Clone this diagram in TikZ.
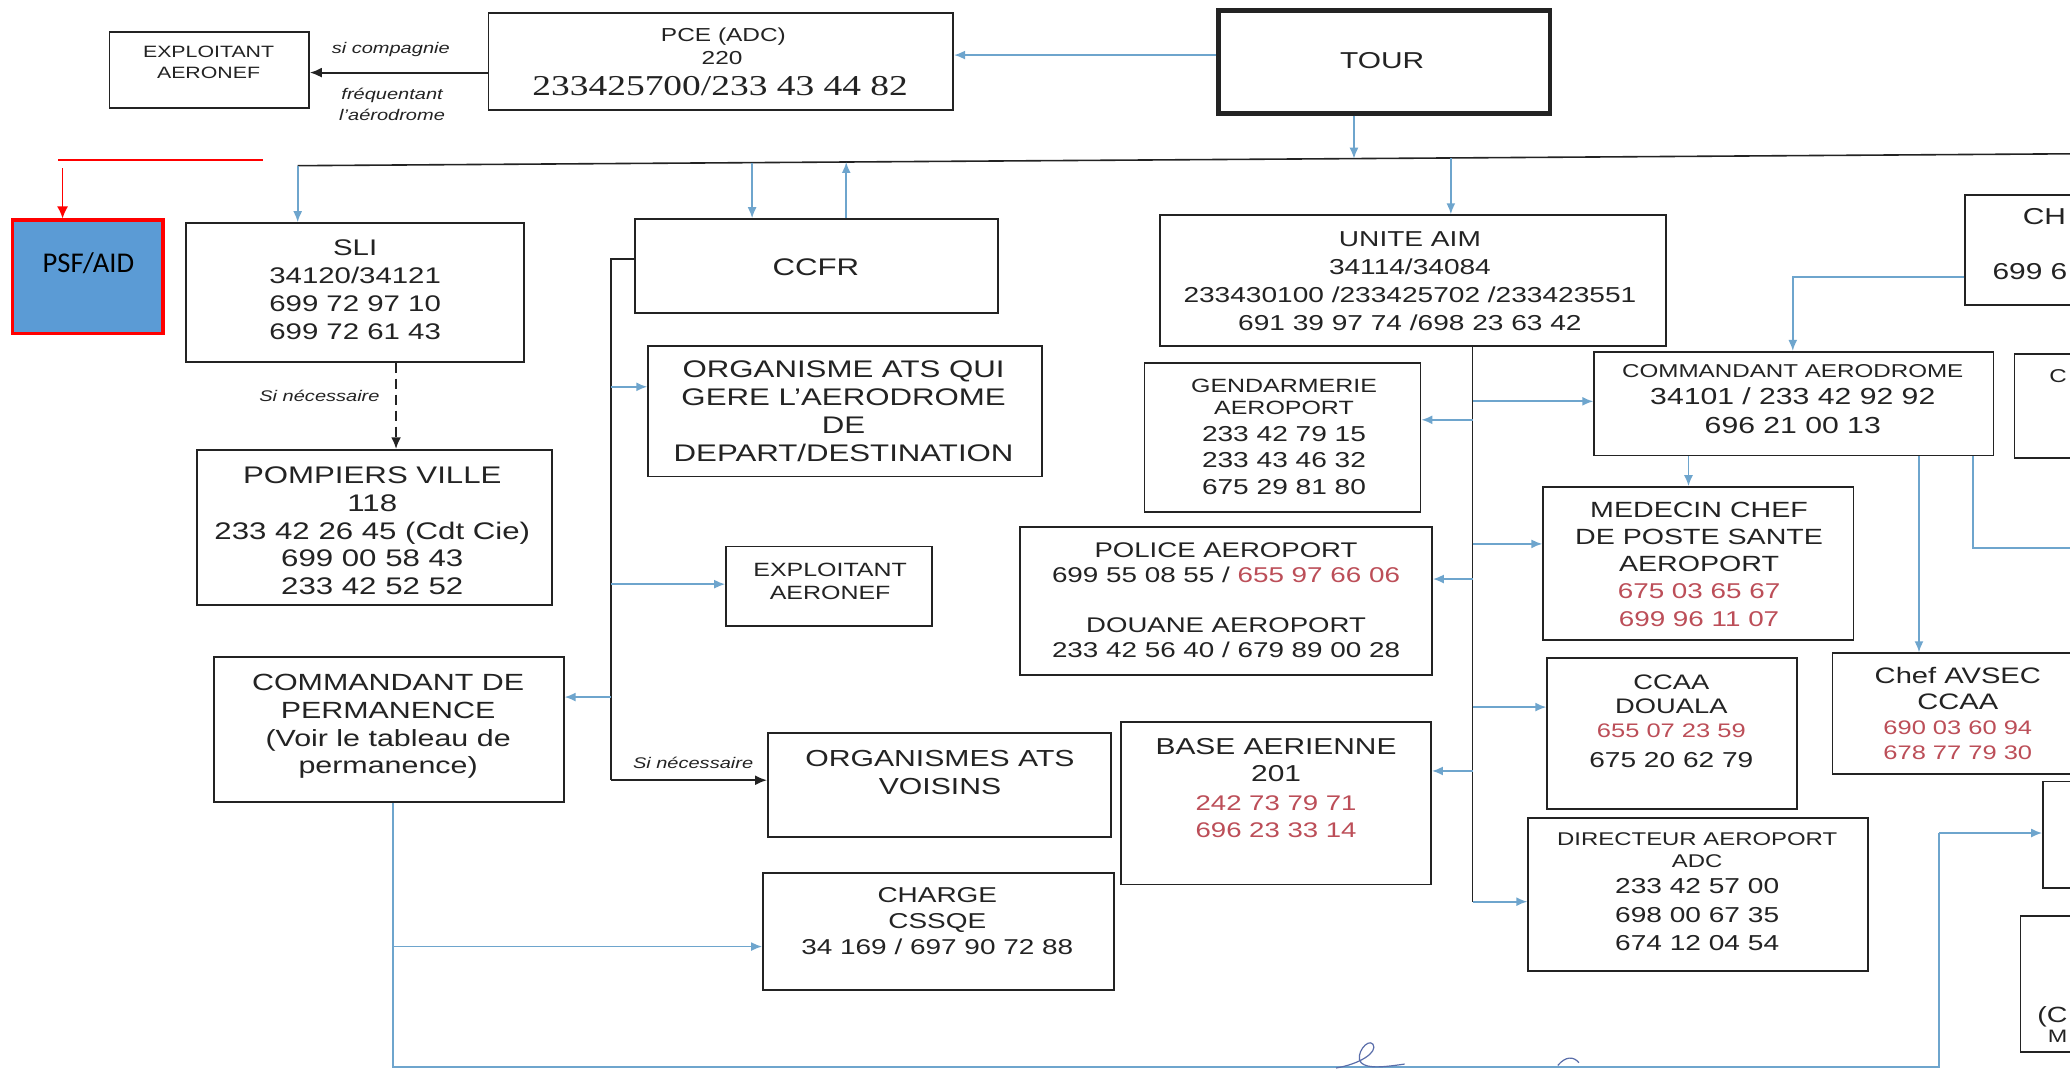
\documentclass[tikz,border=0pt]{standalone}
\usepackage{fontspec}
\setmainfont{Liberation Sans}[FakeStretch=1.3]
\newfontfamily\pcserif{Liberation Serif}[FakeStretch=1.3]
\newfontfamily\psffont{Carlito}
\usetikzlibrary{arrows.meta,fit}
\definecolor{ink}{RGB}{35,35,35}
\definecolor{lineblue}{RGB}{110,165,205}
\definecolor{rednum}{RGB}{188,78,88}
\definecolor{psfblue}{RGB}{91,155,213}
\definecolor{sig}{RGB}{90,110,170}
\begin{document}
\begin{tikzpicture}[x=0.6601pt,y=-0.6601pt,
  box/.style={draw=ink,line width=0.9pt,inner sep=0pt},
  txt/.style={inner sep=0pt,text depth=0pt,align=center,text=ink},
  fs/.style 2 args={font=\fontsize{#1}{#2}\selectfont},
  lab/.style={txt,font=\fontsize{7.7}{9}\selectfont\itshape},
  barrow/.style={draw=lineblue,line width=0.9pt,-{Latex[length=5.5pt,width=4.5pt]}},
  bline/.style={draw=lineblue,line width=0.9pt},
  karrow/.style={draw=ink,line width=1pt,-{Latex[length=6pt,width=5pt]}},
  kline/.style={draw=ink,line width=0.8pt}]
\useasboundingbox (0,0) rectangle (1568,810);
\clip (0,0) rectangle (1568,810);
\fill[white] (0,0) rectangle (1568,810);

% ---------- boxes ----------
\node[box,fit={(83,24.5) (234,82)}] (ex1) {};
\node[box,fit={(370,9.6) (722,83.5)}] (pce) {};
\node[box,line width=2.2pt,fit={(923,8) (1174,86)}] (tour) {};
\node[draw=red,line width=1.6pt,fill=psfblue,inner sep=0pt,fit={(9.5,166.7) (123.4,252.5)}] (psf) {};
\node[box,fit={(141,169) (397,274)}] (sli) {};
\node[box,fit={(149,341) (418,458)}] (pomp) {};
\node[box,fit={(162,497.6) (427,607.5)}] (cdp) {};
\node[box,fit={(481,166) (756,237)}] (ccfr) {};
\node[box,fit={(491,262) (789,361)}] (org) {};
\node[box,fit={(550,414) (706,474)}] (expl2) {};
\node[box,fit={(581.7,555) (841.6,634)}] (vois) {};
\node[box,fit={(578,661) (844,750)}] (charge) {};
\node[box,fit={(878.6,163) (1262,262)}] (aim) {};
\node[box,fit={(867,275) (1076,388)}] (gend) {};
\node[box,fit={(772.7,399) (1084.7,511)}] (police) {};
\node[box,fit={(849,547) (1084,670)}] (base) {};
\node[box,fit={(1207.6,266.5) (1510,345)}] (ca) {};
\node[box,fit={(1169,369) (1404,484.6)}] (med) {};
\node[box,fit={(1172,498.5) (1361,612.5)}] (ccaa) {};
\node[box,fit={(1388,494.8) (1600,586)}] (avsec) {};
\node[box,fit={(1157.6,619.4) (1415,735.3)}] (dir) {};
\node[box,fit={(1488.6,148) (1600,231)}] (ch) {};
\node[box,fit={(1526,268) (1600,347)}] (cbox) {};
\node[box,fit={(1547.6,592) (1600,672.6)}] (rb1) {};
\node[box,fit={(1530.5,694) (1600,797)}] (rb2) {};

% ---------- texts ----------
\node[txt,fs={8.2}{10.2}] (ex1t) at (158,47.3) {EXPLOITANT\\AERONEF};
\node[lab] (l1) at (296,36.6) {si compagnie};
\node[lab] (l2) at (297,70.7) {fréquentant};
\node[lab] (l3) at (297,87) {l'aérodrome};
\node[txt,fs={9.4}{11}] (pce1) at (548,26.5) {PCE (ADC)};
\node[txt,fs={9.4}{11}] (pce2) at (547,44) {220};
\node[txt,font=\pcserif\fontsize{14.4}{16}\selectfont] (pce3) at (545.5,65) {233425700/233 43 44 82};
\node[txt,fs={11.5}{13}] (tourt) at (1047,46) {TOUR};
\node[txt,font=\psffont\fontsize{14.3}{16}\selectfont,text=black] (psft) at (67,198.7) {PSF/AID};
\node[txt,fs={11.3}{13.9}] (slit) at (269,219.5) {SLI\\34120/34121\\699 72 97 10\\699 72 61 43};
\node[lab] (l4) at (242,300) {Si nécessaire};
\node[txt,fs={12}{13.9}] (pompt) at (282,402) {POMPIERS VILLE\\118\\233 42 26 45 (Cdt Cie)\\699 00 58 43\\233 42 52 52};
\node[txt,fs={11.7}{13.9}] (cdpt) at (294,548.5) {COMMANDANT DE\\PERMANENCE\\(Voir le tableau de\\permanence)};
\node[txt,fs={12}{14}] (ccfrt) at (618,202) {CCFR};
\node[txt,fs={12}{13.9}] (orgt) at (639,311.5) {ORGANISME ATS QUI\\GERE L'AERODROME\\DE\\DEPART/DESTINATION};
\node[txt,fs={9.6}{11.5}] (expl2t) at (628.8,440.5) {EXPLOITANT\\AERONEF};
\node[lab] (l5) at (525,578) {Si nécessaire};
\node[txt,fs={11.6}{14.2}] (voist) at (712,585) {ORGANISMES ATS\\VOISINS};
\node[txt,fs={10.75}{12.8}] (charget) at (710,697.6) {CHARGE\\CSSQE\\34 169 / 697 90 72 88};
\node[txt,fs={10.8}{13.9}] (aimt) at (1068,213) {UNITE AIM\\34114/34084\\233430100 /233425702 /233423551\\691 39 97 74 /698 23 63 42};

\node[txt,fs={9.6}{11}] (gend1) at (972.6,292) {GENDARMERIE};
\node[txt,fs={9.6}{11}] (gend2) at (972.6,309) {AEROPORT};
\node[txt,fs={10.8}{12}] (gend3) at (972.6,328.5) {233 42 79 15};
\node[txt,fs={10.8}{12}] (gend4) at (972.6,348.5) {233 43 46 32};
\node[txt,fs={10.8}{12}] (gend5) at (972.6,368.5) {675 29 81 80};

\node[txt,fs={10.6}{12}] (pol1) at (928.7,416.7) {POLICE AEROPORT};
\node[txt,fs={10.7}{12}] (pol2) at (928.7,435.6) {699 55 08 55 / \textcolor{rednum}{655 97 66 06}};
\node[txt,fs={10.6}{12}] (pol3) at (928.7,473.4) {DOUANE AEROPORT};
\node[txt,fs={10.7}{12}] (pol4) at (928.7,492.4) {233 42 56 40 / 679 89 00 28};

\node[txt,fs={11.5}{13}] (base1) at (966.6,565.6) {BASE AERIENNE};
\node[txt,fs={11.5}{13}] (base2) at (966.6,586) {201};
\node[txt,fs={10.6}{12},text=rednum] (base3) at (966.6,608) {242 73 79 71};
\node[txt,fs={10.6}{12},text=rednum] (base4) at (966.6,628.7) {696 23 33 14};

\node[txt,fs={9.3}{11}] (ca1) at (1358,281) {COMMANDANT AERODROME};
\node[txt,fs={11.6}{13}] (ca2) at (1358,300) {34101 / 233 42 92 92};
\node[txt,fs={11.6}{13}] (ca3) at (1358,322) {696 21 00 13};

\node[txt,fs={11}{13}] (med1) at (1287,386.5) {MEDECIN CHEF};
\node[txt,fs={11}{13}] (med2) at (1287,406.5) {DE POSTE SANTE};
\node[txt,fs={11}{13}] (med3) at (1287,427) {AEROPORT};
\node[txt,fs={10.7}{12},text=rednum] (med4) at (1287,448) {675 03 65 67};
\node[txt,fs={10.7}{12},text=rednum] (med5) at (1287,469) {699 96 11 07};

\node[txt,fs={10.5}{12}] (ccaa1) at (1266,516.5) {CCAA};
\node[txt,fs={10.5}{12}] (ccaa2) at (1266,535) {DOUALA};
\node[txt,fs={9.8}{11},text=rednum] (ccaa3) at (1266,553.6) {655 07 23 59};
\node[txt,fs={10.8}{12}] (ccaa4) at (1266,575.4) {675 20 62 79};

\node[txt,fs={11.2}{13}] (av1) at (1483,511.4) {Chef AVSEC};
\node[txt,fs={11.2}{13}] (av2) at (1483,531.4) {CCAA};
\node[txt,fs={9.8}{11},text=rednum] (av3) at (1483,551.4) {690 03 60 94};
\node[txt,fs={9.8}{11},text=rednum] (av4) at (1483,570.4) {678 77 79 30};

\node[txt,fs={9.2}{11}] (dir1) at (1285.6,635.5) {DIRECTEUR AEROPORT};
\node[txt,fs={9.2}{11}] (dir2) at (1285.6,652) {ADC};
\node[txt,fs={10.8}{12}] (dir3) at (1285.6,671) {233 42 57 00};
\node[txt,fs={10.8}{12}] (dir4) at (1285.6,693) {698 00 67 35};
\node[txt,fs={10.8}{12}] (dir5) at (1285.6,714) {674 12 04 54};

\node[txt,fs={11.5}{13},anchor=west] (cht1) at (1532,164) {CH};
\node[txt,fs={11.5}{13},anchor=west] (cht2) at (1509,206) {699 6};
\node[txt,fs={9.3}{11},anchor=west] (cbt) at (1552,285) {C};
\node[txt,fs={11}{12},anchor=west] (rb2a) at (1543,768.5) {(C};
\node[txt,fs={9}{10},anchor=west] (rb2b) at (1551,785) {M};

% ---------- connectors ----------
\draw[barrow] (tour.west |- 0,41.7) -- (pce.east |- 0,41.7);
\draw[karrow] (pce.west |- 0,55) -- (ex1.east |- 0,55);

\coordinate (mlL) at (225.5,125.5);
\coordinate (mlR) at (1568,116.5);
\coordinate (mlC1) at (569.7,123.2);
\coordinate (mlC2) at (641,122.7);
\coordinate (mlT) at (1025.6,120.2);
\coordinate (mlA) at (1099,119.7);
\draw[kline] (mlL) -- (mlR);
\draw[barrow] (tour.south -| mlT) -- (mlT);
\draw[barrow] (mlL) -- (sli.north -| mlL);
\draw[barrow] (mlC1) -- (ccfr.north -| mlC1);
\draw[barrow] (ccfr.north -| mlC2) -- (mlC2);
\draw[barrow] (mlA) -- (aim.north -| mlA);

% red
\coordinate (r1) at (44,121);
\coordinate (r2) at (199,121);
\coordinate (r3) at (47.4,127.5);
\draw[red,line width=0.8pt] (r1) -- (r2);
\draw[red,line width=0.8pt,-{Latex[length=6pt,width=5.5pt]}] (r3) -- (psf.north -| r3);

% SLI -> pompiers
\coordinate (dx) at (300,0);
\draw[karrow,line width=1.2pt,dash pattern=on 5pt off 3pt] (sli.south -| dx) -- (pomp.north -| dx);

% CCFR branch
\coordinate (vtop) at (463,196);
\coordinate (vbot) at (463,591);
\coordinate (vo) at (463,293);
\coordinate (ve) at (463,442.5);
\coordinate (vc) at (463,528);
\draw[kline] (ccfr.west |- vtop) -- (vtop) -- (vbot);
\draw[karrow] (vbot) -- (vois.west |- vbot);
\draw[barrow] (vo) -- (org.west |- vo);
\draw[barrow] (ve) -- (expl2.west |- ve);
\draw[barrow] (vc) -- (cdp.east |- vc);

% CDP bottom line
\coordinate (b1) at (297.6,808);
\coordinate (bc) at (297.6,717);
\coordinate (b2) at (1468.7,808);
\coordinate (b3) at (1468.7,631);
\draw[bline] (cdp.south -| b1) -- (b1) -- (b2) -- (b3);
\draw[barrow] (b3) -- (rb1.west |- b3);
\draw[barrow] (bc) -- (charge.west |- bc);

% AIM branch
\coordinate (ax) at (1115.5,0);
\coordinate (abot) at (1115.5,683);
\coordinate (ag) at (1115.5,318);
\coordinate (aca) at (1115.5,304);
\coordinate (ap) at (1115.5,438.6);
\coordinate (am) at (1115.5,412);
\coordinate (acc) at (1115.5,535.6);
\coordinate (ab) at (1115.5,584);
\draw[kline] (aim.south -| ax) -- (abot);
\draw[barrow] (abot) -- (dir.west |- abot);
\draw[barrow] (ag) -- (gend.east |- ag);
\draw[barrow] (aca) -- (ca.west |- aca);
\draw[barrow] (ap) -- (police.east |- ap);
\draw[barrow] (am) -- (med.west |- am);
\draw[barrow] (acc) -- (ccaa.west |- acc);
\draw[barrow] (ab) -- (base.east |- ab);

% Commandant aerodrome branches
\coordinate (cm) at (1279,0);
\coordinate (cav) at (1453.6,0);
\coordinate (cr) at (1494.6,415);
\coordinate (crend) at (1568,415);
\draw[barrow] (ca.south -| cm) -- (med.north -| cm);
\draw[barrow] (ca.south -| cav) -- (avsec.north -| cav);
\draw[bline] (ca.south -| cr) -- (cr) -- (crend);
\coordinate (chc) at (1358,210);
\draw[barrow] (ch.west |- chc) -- (chc) -- (ca.north -| chc);

% pen mark
\draw[sig,line width=0.6pt] (1012,809) .. controls (1030,806) and (1044,797) .. (1040,791) .. controls (1036,786) and (1026,799) .. (1031,805) .. controls (1036,810) and (1050,808) .. (1064,806);
\draw[sig,line width=0.6pt] (1180,807) .. controls (1186,800) and (1192,800) .. (1196,805);
\end{tikzpicture}
\end{document}
